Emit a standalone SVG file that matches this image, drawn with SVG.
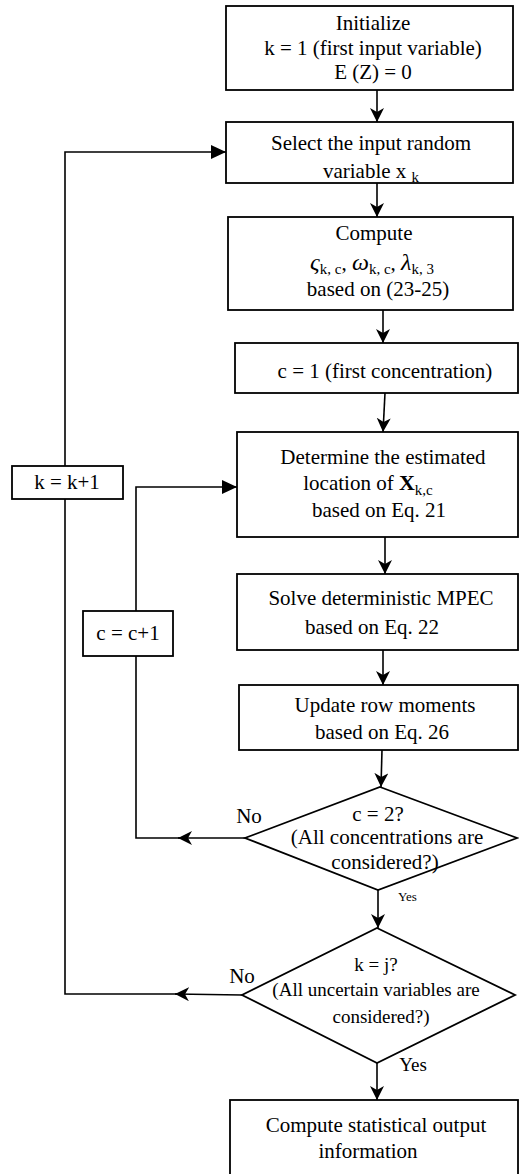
<svg xmlns="http://www.w3.org/2000/svg" width="519" height="1174" viewBox="0 0 519 1174">
<style>
.t{font-family:"Liberation Serif","DejaVu Serif",serif;font-size:21px;fill:#000;text-anchor:middle}
.s{font-size:19px}
.sm{font-size:13px;text-anchor:start}
.box{fill:#fff;stroke:#000;stroke-width:1.8}
.ln{fill:none;stroke:#000;stroke-width:1.6}
.gk{font-style:italic;font-size:24px}
.sub{font-size:15px}
</style>
<defs>
<marker id="ah" markerUnits="userSpaceOnUse" markerWidth="16" markerHeight="16" refX="14" refY="7" orient="auto">
<path d="M0,0 L14,7 L0,14 L4,7 z" fill="#000"/>
</marker>
<marker id="tri" markerUnits="userSpaceOnUse" markerWidth="16" markerHeight="16" refX="15" refY="7" orient="auto">
<path d="M0,0 L15,7 L0,14 z" fill="#000"/>
</marker>
</defs>
<rect width="519" height="1174" fill="#fff"/>
<g id="connectors">
<path class="ln" d="M377,90 L377,122" marker-end="url(#ah)"/>
<path class="ln" d="M377,183 L377,217" marker-end="url(#ah)"/>
<path class="ln" d="M383,310 L383,343" marker-end="url(#ah)"/>
<path class="ln" d="M385,393 L383,432" marker-end="url(#ah)"/>
<path class="ln" d="M385,537 L385,574" marker-end="url(#ah)"/>
<path class="ln" d="M383,650 L383,685" marker-end="url(#ah)"/>
<path class="ln" d="M382,750 L381,787" marker-end="url(#ah)"/>
<path class="ln" d="M378,890 L378,928" marker-end="url(#ah)"/>
<path class="ln" d="M377,1063 L377,1100" marker-end="url(#ah)"/>
<path class="ln" d="M245,838 L178,838" marker-end="url(#ah)"/>
<path class="ln" d="M180,838 L136,838 L136,656"/>
<path class="ln" d="M136,611 L136,487 L237,487" marker-end="url(#tri)"/>
<path class="ln" d="M242,995 L175,994" marker-end="url(#ah)"/>
<path class="ln" d="M177,994 L65,994 L65,499"/>
<path class="ln" d="M65,466 L65,152 L226,152" marker-end="url(#tri)"/>
</g>
<g id="init">
<rect class="box" x="226" y="6" width="287" height="84"/>
<text class="t" x="373" y="30">Initialize</text>
<text class="t" x="373" y="55">k = 1 (first input variable)</text>
<text class="t" x="373" y="79">E (Z) = 0</text>
</g>
<g id="select">
<rect class="box" x="226" y="122" width="287" height="61"/>
<text class="t" x="371" y="150">Select the input random</text>
<text class="t" x="371" y="178">variable x <tspan class="sub" dy="4">k</tspan></text>
</g>
<g id="compute">
<rect class="box" x="228" y="217" width="285" height="93"/>
<text class="t" x="374" y="240">Compute</text>
<text class="t" x="372" y="270"><tspan class="gk">ς</tspan><tspan class="sub" dy="4">k, c</tspan><tspan dy="-4">, </tspan><tspan class="gk">ω</tspan><tspan class="sub" dy="4">k, c</tspan><tspan dy="-4">, </tspan><tspan class="gk">λ</tspan><tspan class="sub" dy="4">k, 3</tspan></text>
<text class="t" x="378" y="296">based on (23-25)</text>
</g>
<g id="cinit">
<rect class="box" x="235" y="343" width="283" height="50"/>
<text class="t" x="385" y="378">c = 1 (first concentration)</text>
</g>
<g id="determine">
<rect class="box" x="237" y="432" width="281" height="105"/>
<text class="t" x="383" y="464">Determine the estimated</text>
<text class="t" x="368" y="490">location of  <tspan font-weight="bold" font-size="22">X</tspan><tspan class="sub" dy="5">k,c</tspan></text>
<text class="t" x="379" y="517">based on Eq. 21</text>
</g>
<g id="solve">
<rect class="box" x="237" y="574" width="281" height="76"/>
<text class="t" x="381" y="605">Solve deterministic MPEC</text>
<text class="t" x="372" y="634">based on Eq. 22</text>
</g>
<g id="update">
<rect class="box" x="239" y="685" width="279" height="65"/>
<text class="t" x="385" y="712">Update row moments</text>
<text class="t" x="382" y="739">based on Eq. 26</text>
</g>
<g id="cdecision">
<polygon class="box" points="380,787 517,838 378,890 245,838"/>
<text class="t" x="378" y="821">c = 2?</text>
<text class="t" x="387" y="844">(All concentrations are</text>
<text class="t" x="385" y="869">considered?)</text>
<text class="t" x="249" y="823">No</text>
<text class="t sm" x="398" y="901">Yes</text>
</g>
<g id="kdecision">
<polygon class="box" points="377,928 515,995 377,1063 242,995"/>
<text class="t s" x="376" y="971">k = j?</text>
<text class="t s" x="376" y="996">(All uncertain variables are</text>
<text class="t s" x="381" y="1023">considered?)</text>
<text class="t" x="242" y="983">No</text>
<text class="t s" x="413" y="1071">Yes</text>
</g>
<g id="output">
<rect class="box" x="230" y="1100" width="288" height="80"/>
<text class="t" x="376" y="1132">Compute statistical output</text>
<text class="t" x="368" y="1158">information</text>
</g>
<g id="kinc">
<rect class="box" x="12" y="466" width="111" height="33"/>
<text class="t" x="67" y="489">k = k+1</text>
</g>
<g id="cinc">
<rect class="box" x="83" y="611" width="90" height="45"/>
<text class="t" x="128" y="640">c = c+1</text>
</g>
</svg>
